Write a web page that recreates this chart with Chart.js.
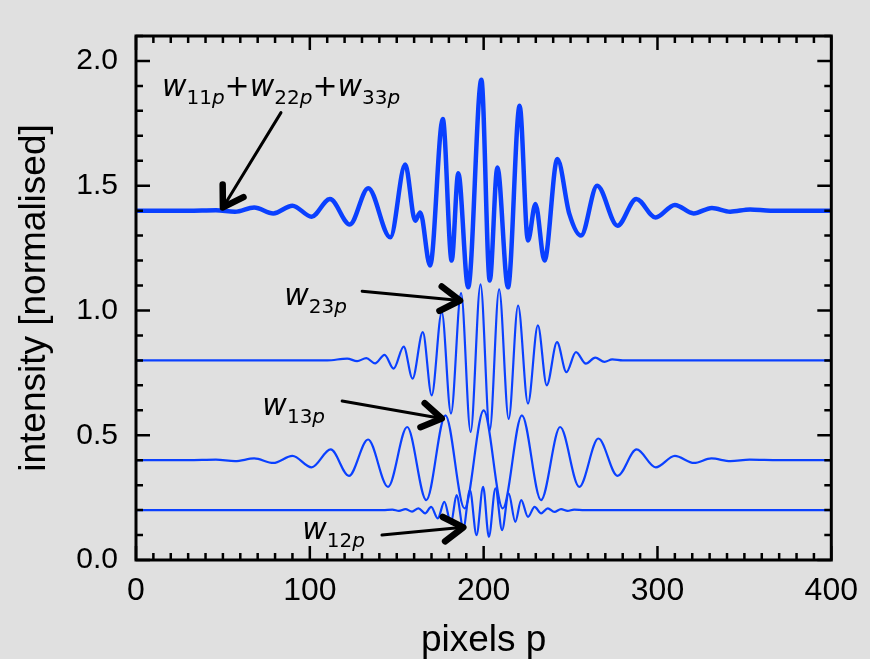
<!DOCTYPE html>
<html>
<head>
<meta charset="utf-8">
<script src="https://cdn.jsdelivr.net/npm/chart.js@4.4.1/dist/chart.umd.min.js"></script>
<style>
  html, body { margin: 0; padding: 0; background: #e0e0e0; }
  #wrap { width: 870px; height: 659px; position: relative; }
</style>
</head>
<body>
<div id="wrap"><canvas id="chart"></canvas></div>
<script>
// w11p + w22p + w33p, offset to 1.4
const sumX = [0, 30, 46, 57, 68, 79, 90, 101, 111.6, 123, 133.6, 146.3, 154.9, 160.6, 163.5, 169.2, 176.5, 181.6, 185.4, 191.1, 198.7, 203.5, 207.9, 214, 220.7, 225.5, 229.8, 235, 242.4, 249.3, 256, 265.3, 277, 287.8, 298.9, 310, 320.8, 331.3, 341.8, 353.3, 365, 400];
const sumY = [1.40, 1.40, 1.402, 1.396, 1.413, 1.389, 1.42, 1.376, 1.447, 1.345, 1.49, 1.293, 1.585, 1.36, 1.393, 1.18, 1.767, 1.20, 1.55, 1.093, 1.925, 1.12, 1.573, 1.093, 1.82, 1.28, 1.427, 1.20, 1.607, 1.387, 1.30, 1.50, 1.34, 1.447, 1.373, 1.423, 1.389, 1.411, 1.396, 1.405, 1.40, 1.40];

// w23p, offset to 0.8
const w23X = [0, 110, 121.5, 127.2, 132.5, 137.5, 143, 148.2, 154, 159.1, 165, 170.1, 175.9, 181.2, 187, 192.5, 198.2, 203.5, 208.9, 214.4, 219.8, 225.5, 231.2, 236.3, 242.2, 247.6, 253.1, 258.8, 264.2, 269.5, 274, 280, 400];
const w23Y = [0.80, 0.80, 0.807, 0.797, 0.809, 0.788, 0.822, 0.767, 0.855, 0.727, 0.913, 0.66, 0.993, 0.587, 1.07, 0.513, 1.105, 0.52, 1.085, 0.565, 1.02, 0.627, 0.94, 0.70, 0.873, 0.753, 0.833, 0.787, 0.811, 0.794, 0.804, 0.80, 0.80];

// w13p, offset to 0.4
const w13X = [0, 30, 46, 57, 68, 79, 90, 101, 112, 122.5, 133.5, 145, 156, 167, 178, 189, 200, 211, 222, 233, 244, 255, 266, 277, 288, 299, 310, 321, 331, 342, 353, 370, 400];
const w13Y = [0.40, 0.40, 0.402, 0.396, 0.407, 0.389, 0.417, 0.371, 0.443, 0.337, 0.483, 0.293, 0.533, 0.24, 0.58, 0.207, 0.60, 0.207, 0.58, 0.24, 0.533, 0.293, 0.487, 0.337, 0.443, 0.371, 0.417, 0.389, 0.407, 0.396, 0.402, 0.40, 0.40];

// w12p, offset to 0.2
const w12X = [0, 142, 147.5, 151.3, 155, 158.8, 162.5, 166.3, 169.8, 173.6, 177.4, 181.2, 184.4, 188.3, 192.1, 195.9, 199.7, 203, 206.8, 210.6, 214.4, 218.2, 221.6, 225.5, 229.3, 233.1, 236.9, 240.7, 244.5, 248.3, 252, 258, 400];
const w12Y = [0.20, 0.20, 0.202, 0.197, 0.204, 0.194, 0.207, 0.187, 0.213, 0.167, 0.233, 0.147, 0.26, 0.127, 0.28, 0.10, 0.293, 0.093, 0.287, 0.12, 0.267, 0.153, 0.24, 0.173, 0.213, 0.187, 0.207, 0.193, 0.204, 0.197, 0.202, 0.20, 0.20];

// axes
const xTickLabels = [0, 100, 200, 300, 400];
const yTickLabels = [0.0, 0.5, 1.0, 1.5, 2.0];
const xMinorStep = 10;
const yMinorStep = 0.1;

// annotations (data coordinates)
const labelSubs = [['11', '22', '33'], ['23'], ['13'], ['12']];
const labelX = [14.9, 85.3, 72.7, 95.6];
const labelY = [1.86, 1.02, 0.58, 0.084];
const arrowFromX = [83.4, 130.1, 118.6, 141.5];
const arrowFromY = [1.793, 1.077, 0.637, 0.10];
const arrowToX = [50.0, 186.4, 175.9, 188.3];
const arrowToY = [1.413, 1.04, 0.567, 0.131];

const BLUE = '#0a40ff';
const pts = (xs, ys) => xs.map((x, i) => ({ x: x, y: ys[i] }));

const frameTicks = {
  id: 'frameTicks',
  afterDatasetsDraw(chart) {
    const { ctx, chartArea: a, scales: { x, y } } = chart;
    ctx.save();
    ctx.strokeStyle = '#000';
    ctx.lineWidth = 2.5;
    ctx.lineCap = 'butt';
    // x ticks, bottom and top, pointing inwards
    for (let v = 0; v <= 400 + 1e-6; v += xMinorStep) {
      const px = x.getPixelForValue(v);
      const len = xTickLabels.includes(Math.round(v)) ? 14 : 7;
      ctx.beginPath();
      ctx.moveTo(px, a.bottom); ctx.lineTo(px, a.bottom - len);
      ctx.moveTo(px, a.top); ctx.lineTo(px, a.top + len);
      ctx.stroke();
    }
    for (let i = 0; i <= 21; i++) {
      const v = i * yMinorStep;
      const py = y.getPixelForValue(v);
      const len = i % 5 === 0 ? 14 : 7;
      ctx.beginPath();
      ctx.moveTo(a.left, py); ctx.lineTo(a.left + len, py);
      ctx.moveTo(a.right, py); ctx.lineTo(a.right - len, py);
      ctx.stroke();
    }
    ctx.lineWidth = 3;
    ctx.strokeRect(a.left, a.top, a.right - a.left, a.bottom - a.top);
    ctx.restore();
  }
};

function drawLabel(ctx, px, py, subs) {
  ctx.fillStyle = '#000';
  ctx.textBaseline = 'alphabetic';
  ctx.textAlign = 'left';
  subs.forEach((s, i) => {
    if (i > 0) {
      ctx.font = '30px "DejaVu Sans"';
      ctx.fillText('+', px, py);
      px += ctx.measureText('+').width;
    }
    ctx.font = 'italic 30px "DejaVu Sans"';
    ctx.fillText('w', px, py);
    px += ctx.measureText('w').width;
    ctx.font = '20px "DejaVu Sans"';
    ctx.fillText(s, px, py + 8);
    px += ctx.measureText(s).width;
    ctx.font = 'italic 20px "DejaVu Sans"';
    ctx.fillText('p', px, py + 8);
    px += ctx.measureText('p').width;
  });
}

const notes = {
  id: 'notes',
  afterDatasetsDraw(chart) {
    const { ctx, scales: { x, y } } = chart;
    ctx.save();
    labelSubs.forEach((subs, i) => {
      drawLabel(ctx, x.getPixelForValue(labelX[i]), y.getPixelForValue(labelY[i]), subs);
    });
    ctx.strokeStyle = '#000';
    ctx.lineCap = 'round';
    ctx.lineJoin = 'round';
    arrowFromX.forEach((fx, i) => {
      const x0 = x.getPixelForValue(fx), y0 = y.getPixelForValue(arrowFromY[i]);
      const x1 = x.getPixelForValue(arrowToX[i]), y1 = y.getPixelForValue(arrowToY[i]);
      const ang = Math.atan2(y1 - y0, x1 - x0);
      ctx.lineWidth = 3;
      ctx.beginPath();
      ctx.moveTo(x0, y0); ctx.lineTo(x1, y1);
      ctx.stroke();
      ctx.lineWidth = 6.5;
      ctx.beginPath();
      ctx.moveTo(x1 - 23 * Math.cos(ang - 0.56), y1 - 23 * Math.sin(ang - 0.56));
      ctx.lineTo(x1, y1);
      ctx.lineTo(x1 - 23 * Math.cos(ang + 0.56), y1 - 23 * Math.sin(ang + 0.56));
      ctx.stroke();
    });
    ctx.restore();
  }
};

const line = (data, w) => ({
  data: data,
  borderColor: BLUE,
  borderWidth: w,
  pointRadius: 0,
  fill: false,
  cubicInterpolationMode: 'monotone'
});

new Chart(document.getElementById('chart'), {
  type: 'line',
  data: {
    datasets: [
      line(pts(sumX, sumY), 4.5),
      line(pts(w23X, w23Y), 2.2),
      line(pts(w13X, w13Y), 2.2),
      line(pts(w12X, w12Y), 2.2)
    ]
  },
  options: {
    responsive: true,
    maintainAspectRatio: false,
    animation: false,
    layout: { padding: { top: 35, right: 35, left: 0, bottom: 0 } },
    plugins: { legend: { display: false }, tooltip: { enabled: false } },
    scales: {
      x: {
        type: 'linear',
        min: 0,
        max: 400,
        afterFit(s) { s.height = 99; },
        afterBuildTicks(s) { s.ticks = xTickLabels.map(v => ({ value: v })); },
        grid: { display: false, drawTicks: false },
        border: { display: false },
        ticks: {
          color: '#000',
          padding: 12,
          maxRotation: 0,
          font: { family: '"Liberation Sans", Arial, sans-serif', size: 32 },
          callback: v => String(v)
        },
        title: {
          display: true,
          text: 'pixels p',
          color: '#000',
          font: { family: '"Liberation Sans", Arial, sans-serif', size: 37, lineHeight: 1.0 },
          padding: { top: 0, bottom: 0 }
        }
      },
      y: {
        type: 'linear',
        min: 0,
        max: 2.1,
        afterFit(s) { s.width = 136; },
        afterBuildTicks(s) { s.ticks = yTickLabels.map(v => ({ value: v })); },
        grid: { display: false, drawTicks: false },
        border: { display: false },
        ticks: {
          color: '#000',
          padding: 18,
          font: { family: '"Liberation Sans", Arial, sans-serif', size: 30 },
          callback: v => v.toFixed(1)
        },
        title: {
          display: true,
          text: 'intensity [normalised]',
          color: '#000',
          font: { family: '"Liberation Sans", Arial, sans-serif', size: 37 },
          padding: { top: 13, bottom: 0 }
        }
      }
    }
  },
  plugins: [frameTicks, notes]
});
</script>
</body>
</html>
